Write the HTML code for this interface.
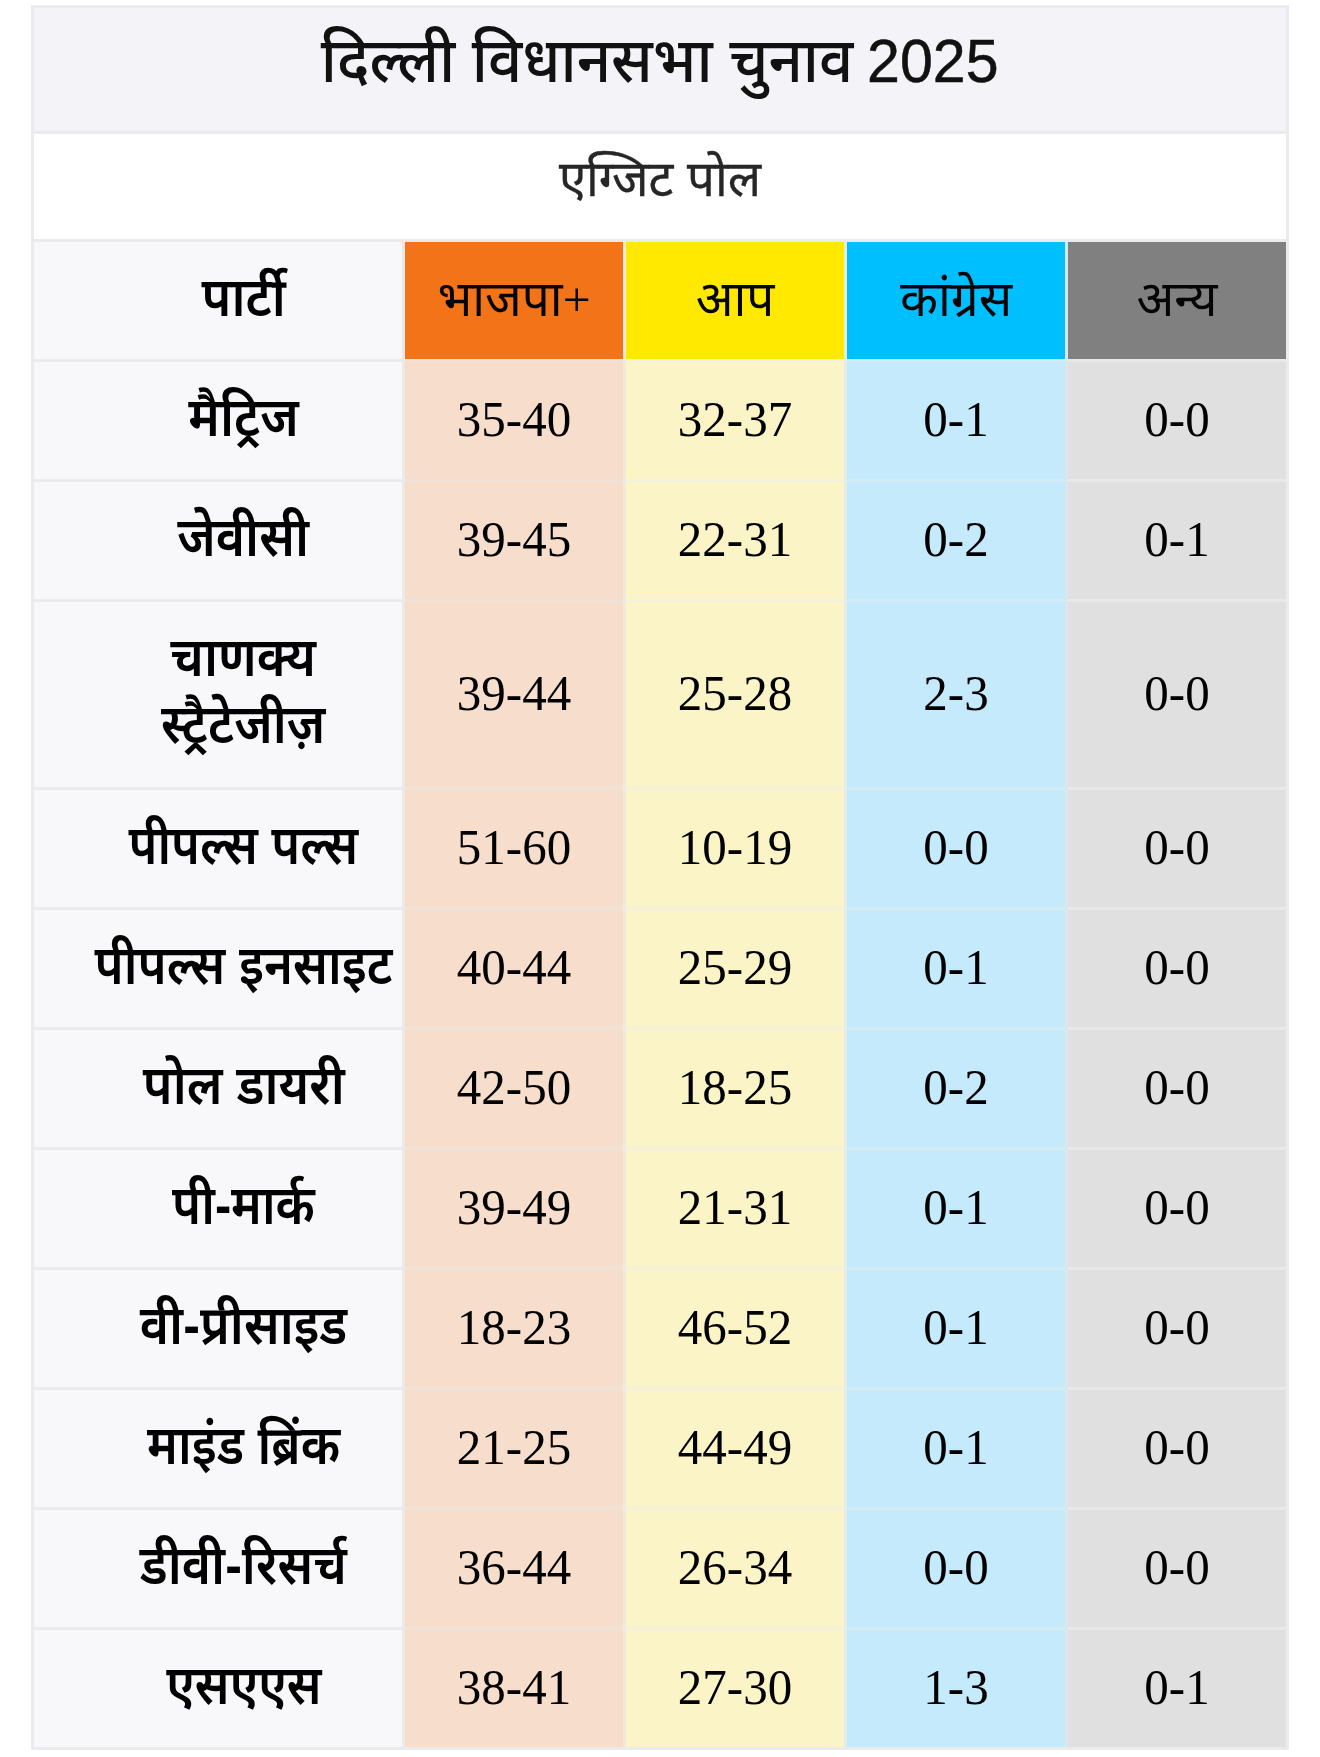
<!DOCTYPE html>
<html lang="hi">
<head>
<meta charset="utf-8">
<title>दिल्ली विधानसभा चुनाव 2025 - एग्जिट पोल</title>
<style>
html,body{margin:0;padding:0;background:#fff;}
body{width:1320px;height:1757px;position:relative;overflow:hidden;
  font-family:"Liberation Sans","Noto Sans Devanagari","Lohit Devanagari","Mukta","FreeSans",sans-serif;color:#111;}
.tbl{position:absolute;left:31px;top:5px;width:1258px;box-sizing:border-box;
  background:linear-gradient(to right,#ebebee 0,#ebebee 371px,#ede9e8 371px,#ede9e8 374px,#f1e2d9 374px,#f1e2d9 592px,#f0e9dc 592px,#f0e9dc 595px,#f3f1dc 595px,#f3f1dc 813px,#e4ece6 813px,#e4ece6 816px,#d4ebf6 816px,#d4ebf6 1034px,#dde6ec 1034px,#dde6ec 1037px,#e9e9ea 1037px,#e9e9ea 1255px,#ebebee 1255px);
  border-top:3px solid #ebebee;border-bottom:3px solid #ebebee;padding:0 3px;display:grid;gap:3px;
  grid-template-columns:368px 218px 218px 218px 218px;
  grid-template-rows:123px 105px 117px 117px 117px 185px 117px 117px 117px 117px 117px 117px 117px 117px;}
.c{box-sizing:border-box;font-weight:400;display:flex;align-items:center;justify-content:center;text-align:center;}
.title{grid-column:1 / 6;margin-bottom:-3px;border-bottom:3px solid #ebebed;background:#f3f3f8;font-size:62px;font-weight:500;color:#111;padding-bottom:7px;}
.title span{display:inline-block;transform:scaleX(0.969);}
.title b{font-weight:inherit;font-size:61px;margin-left:-3px;-webkit-text-stroke:0.5px #111;}
.sub{grid-column:1 / 6;margin-bottom:-3px;border-bottom:3px solid #ebebed;background:#fff;font-size:49.2px;color:#262626;-webkit-text-stroke:0.35px #262626;padding-bottom:8px;}
.n{background:#f8f8fb;font-weight:600;font-size:49.5px;line-height:61.5px;color:#000;padding:0 0 8px 51px;}
.n span{display:inline-block;transform:scale(1.012,1.09);transform-origin:50% 50%;}
.h{font-size:49.5px;color:#050505;padding-top:6px;font-family:"Liberation Serif","Noto Sans Devanagari","Lohit Devanagari","Mukta","FreeSerif",serif;}
.h1{background:#f27318;}
.h2{background:#ffe900;}
.h3{background:#00bfff;}
.h4{background:#808080;}
.v{font-family:"Liberation Serif","Noto Sans Devanagari",serif;font-size:49px;color:#000;padding-bottom:4px;}
.v span{display:inline-block;transform:scaleY(1.035);}
.v1{background:#f7ddcc;}
.v2{background:#faf4c7;}
.v3{background:#c5eafc;}
.v4{background:#e0e0e1;}
</style>
</head>
<body>
<div class="tbl">
  <div class="c title"><span>दिल्ली विधानसभा चुनाव <b>2025</b></span></div>
  <div class="c sub">एग्जिट पोल</div>

  <div class="c n"><span>पार्टी</span></div><div class="c h h1">भाजपा+</div><div class="c h h2">आप</div><div class="c h h3">कांग्रेस</div><div class="c h h4">अन्य</div>

  <div class="c n"><span>मैट्रिज</span></div><div class="c v v1"><span>35-40</span></div><div class="c v v2"><span>32-37</span></div><div class="c v v3"><span>0-1</span></div><div class="c v v4"><span>0-0</span></div>
  <div class="c n"><span>जेवीसी</span></div><div class="c v v1"><span>39-45</span></div><div class="c v v2"><span>22-31</span></div><div class="c v v3"><span>0-2</span></div><div class="c v v4"><span>0-1</span></div>
  <div class="c n"><span>चाणक्य<br>स्ट्रैटेजीज़</span></div><div class="c v v1"><span>39-44</span></div><div class="c v v2"><span>25-28</span></div><div class="c v v3"><span>2-3</span></div><div class="c v v4"><span>0-0</span></div>
  <div class="c n"><span style="transform:scale(0.9791,1.09)">पीपल्स पल्स</span></div><div class="c v v1"><span>51-60</span></div><div class="c v v2"><span>10-19</span></div><div class="c v v3"><span>0-0</span></div><div class="c v v4"><span>0-0</span></div>
  <div class="c n"><span style="transform:scale(0.9897,1.09)">पीपल्स इनसाइट</span></div><div class="c v v1"><span>40-44</span></div><div class="c v v2"><span>25-29</span></div><div class="c v v3"><span>0-1</span></div><div class="c v v4"><span>0-0</span></div>
  <div class="c n"><span>पोल डायरी</span></div><div class="c v v1"><span>42-50</span></div><div class="c v v2"><span>18-25</span></div><div class="c v v3"><span>0-2</span></div><div class="c v v4"><span>0-0</span></div>
  <div class="c n"><span style="transform:scale(0.9857,1.09)">पी-मार्क</span></div><div class="c v v1"><span>39-49</span></div><div class="c v v2"><span>21-31</span></div><div class="c v v3"><span>0-1</span></div><div class="c v v4"><span>0-0</span></div>
  <div class="c n"><span>वी-प्रीसाइड</span></div><div class="c v v1"><span>18-23</span></div><div class="c v v2"><span>46-52</span></div><div class="c v v3"><span>0-1</span></div><div class="c v v4"><span>0-0</span></div>
  <div class="c n"><span style="transform:scale(0.9897,1.09)">माइंड ब्रिंक</span></div><div class="c v v1"><span>21-25</span></div><div class="c v v2"><span>44-49</span></div><div class="c v v3"><span>0-1</span></div><div class="c v v4"><span>0-0</span></div>
  <div class="c n"><span>डीवी-रिसर्च</span></div><div class="c v v1"><span>36-44</span></div><div class="c v v2"><span>26-34</span></div><div class="c v v3"><span>0-0</span></div><div class="c v v4"><span>0-0</span></div>
  <div class="c n"><span style="transform:scale(0.9837,1.09)">एसएएस</span></div><div class="c v v1"><span>38-41</span></div><div class="c v v2"><span>27-30</span></div><div class="c v v3"><span>1-3</span></div><div class="c v v4"><span>0-1</span></div>
</div>
</body>
</html>
